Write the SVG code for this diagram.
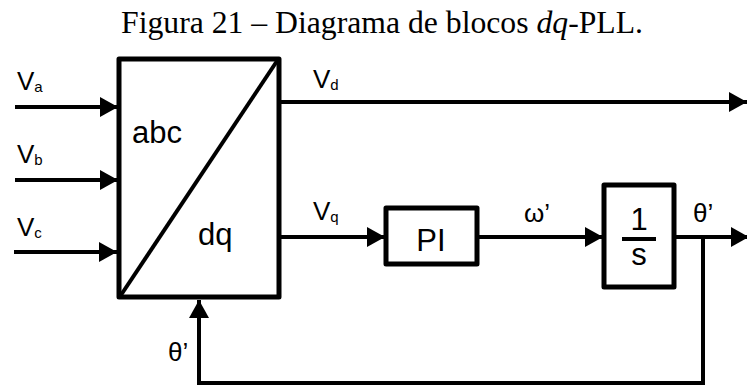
<svg xmlns="http://www.w3.org/2000/svg" width="747" height="387" viewBox="0 0 747 387">
<style>
.ln{stroke:#000;stroke-width:4;fill:none}
.bx{stroke:#000;stroke-width:5;fill:#fff;stroke-linejoin:round}
.t{font-family:"Liberation Sans",Arial,sans-serif;fill:#000}
.lb{font-size:26px}
.sb{font-size:15px}
.big{font-size:31px}
.title{font-family:"Liberation Serif","Times New Roman",serif;font-size:31px;fill:#000}
</style>
<defs>
<marker id="ah" markerUnits="userSpaceOnUse" markerWidth="20" markerHeight="22" refX="18" refY="10" orient="auto">
<path d="M0,0 L18,10 L0,20 Z" fill="#000"/>
</marker>
</defs>
<text class="title" x="121" y="33" textLength="522" lengthAdjust="spacingAndGlyphs">Figura 21 – Diagrama de blocos <tspan font-style="italic">dq</tspan>-PLL.</text>
<g id="connectors">
<line class="ln" x1="15" y1="107" x2="118" y2="107" marker-end="url(#ah)"/>
<line class="ln" x1="15" y1="180" x2="118" y2="180" marker-end="url(#ah)"/>
<line class="ln" x1="14" y1="252" x2="117" y2="252" marker-end="url(#ah)"/>
<line class="ln" x1="280" y1="102" x2="747" y2="102" marker-end="url(#ah)"/>
<line class="ln" x1="280" y1="237" x2="385" y2="237" marker-end="url(#ah)"/>
<line class="ln" x1="478" y1="237" x2="603" y2="237" marker-end="url(#ah)"/>
<line class="ln" x1="675" y1="237" x2="749" y2="237" marker-end="url(#ah)"/>
<polyline class="ln" points="703,237 703,383 199,383 199,300" marker-end="url(#ah)"/>
</g>
<g id="abc-dq">
<rect class="bx" x="119" y="59" width="160" height="238"/>
<line class="ln" x1="121" y1="295" x2="277" y2="61"/>
<text class="t big" x="132" y="143">abc</text>
<text class="t big" x="198" y="245">dq</text>
</g>
<g id="pi">
<rect class="bx" x="386" y="208" width="91" height="56"/>
<text class="t big" x="431" y="251" text-anchor="middle">PI</text>
</g>
<g id="integrator">
<rect class="bx" x="604" y="185" width="70" height="102"/>
<text class="t big" x="639" y="230" text-anchor="middle">1</text>
<line x1="622" y1="239" x2="656" y2="239" stroke="#000" stroke-width="4"/>
<text class="t big" x="639" y="265" text-anchor="middle">s</text>
</g>
<g id="labels">
<text class="t lb" x="17" y="90">V<tspan class="sb" dy="2">a</tspan></text>
<text class="t lb" x="17" y="163">V<tspan class="sb" dy="2">b</tspan></text>
<text class="t lb" x="17" y="236">V<tspan class="sb" dy="2">c</tspan></text>
<text class="t lb" x="313" y="88">V<tspan class="sb" dy="2">d</tspan></text>
<text class="t lb" x="313" y="220">V<tspan class="sb" dy="2">q</tspan></text>
<text class="t lb" x="524" y="222">ω’</text>
<text class="t lb" x="693" y="222">θ’</text>
<text class="t lb" x="168" y="361">θ’</text>
</g>
</svg>
